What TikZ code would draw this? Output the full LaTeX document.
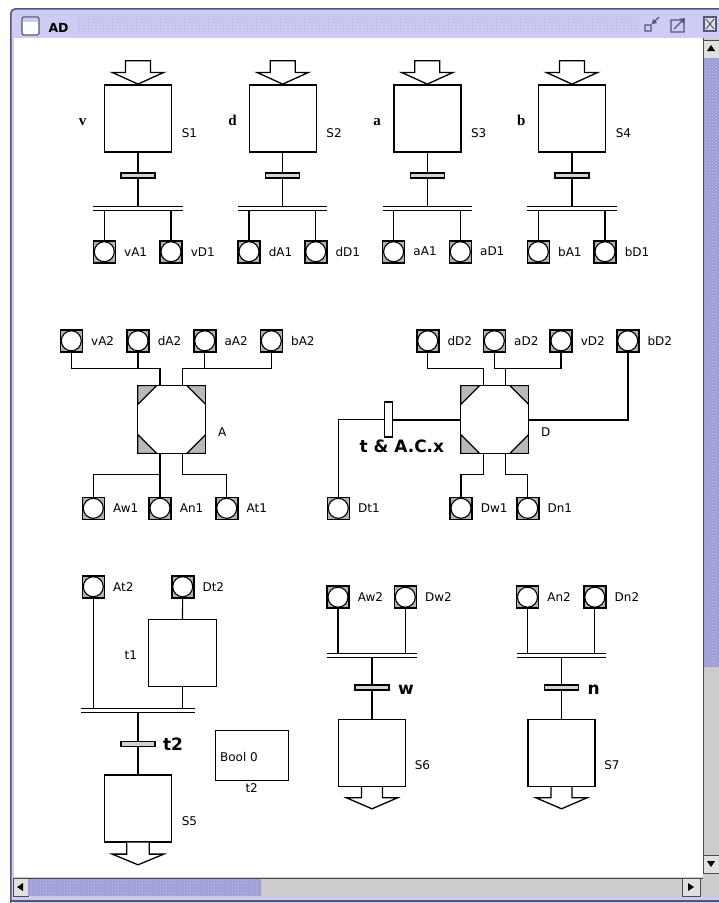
\documentclass[tikz,border=0pt]{standalone}
\usepackage{fontspec}
\setmainfont{DejaVu Sans}
\newfontfamily\serbold{Liberation Serif}
\usepackage{tikz}
\usetikzlibrary{positioning,patterns}
\usepackage{xcolor}
\definecolor{lav}{HTML}{CCCCF5}
\definecolor{lavdot}{HTML}{AFAFDD}
\definecolor{winframe}{HTML}{55557A}
\definecolor{thumbfill}{HTML}{9E9ED6}
\definecolor{thumbdot}{HTML}{C2C2EA}
\definecolor{trackgray}{HTML}{CCCCCC}
\definecolor{btngray}{HTML}{E0E0E0}

\begin{document}
\begin{tikzpicture}[
  x=1pt, y=-1pt,
  line width=1.1pt,
  stepbox/.style={rectangle, draw, line width=1.4pt, fill=white,
    minimum width=67pt, minimum height=67pt, inner sep=0pt},
  plc/.style={rectangle, draw, line width=1.6pt, fill=gray!60,
    minimum size=22pt, inner sep=0pt,
    path picture={\draw[fill=white, line width=1.1pt]
      (path picture bounding box.center) circle (10pt);}},
  macro/.style={rectangle, draw, line width=1.5pt, fill=white,
    minimum size=68pt, inner sep=0pt,
    path picture={
      \filldraw[fill=gray!55, line width=1.3pt]
        (path picture bounding box.north west) -- ++(19pt,0pt) -- ++(-19pt,-19pt) -- cycle
        (path picture bounding box.north east) -- ++(-19pt,0pt) -- ++(19pt,-19pt) -- cycle
        (path picture bounding box.south west) -- ++(19pt,0pt) -- ++(-19pt,19pt) -- cycle
        (path picture bounding box.south east) -- ++(-19pt,0pt) -- ++(19pt,19pt) -- cycle;
      \fill
        ([xshift=1pt]path picture bounding box.west) -- ++(3pt,2.5pt) -- ++(3pt,-2.5pt) -- ++(-3pt,-2.5pt) -- cycle
        ([xshift=-1pt]path picture bounding box.east) -- ++(-3pt,2.5pt) -- ++(-3pt,-2.5pt) -- ++(3pt,-2.5pt) -- cycle;
    }},
  trans/.style={rectangle, draw, line width=1.1pt, fill=gray!35,
    minimum width=34pt, minimum height=5pt, inner sep=0pt},
  vtrans/.style={rectangle, draw, line width=1.8pt, fill=white,
    minimum width=8pt, minimum height=35pt, inner sep=0pt},
  sync/.style={rectangle, minimum height=4pt, inner sep=0pt},
  dbl/.style={line width=1.1pt, double=white, double distance=2.8pt},
  blk/.style={draw, fill=white, line width=1.3pt},
  thk/.style={line width=2pt},
  boolbox/.style={rectangle, draw, line width=1.3pt, fill=white,
    minimum width=73pt, minimum height=50pt, inner sep=0pt},
  lbl/.style={font=\fontsize{12}{14}\selectfont, inner sep=1pt},
  var/.style={font=\serbold\bfseries\fontsize{15}{17}\selectfont, inner sep=0pt},
  guard/.style={font=\bfseries\fontsize{17}{20}\selectfont, inner sep=0pt},
  btn/.style={fill=btngray, draw=gray!60!black, line width=0.8pt}
]
\useasboundingbox (0,0) rectangle (719,903);

% window frame and title bar
\fill[white] (0,0) rectangle (719,903);
\fill[lav, rounded corners=5pt] (10,8) rectangle (730,903);
\draw[winframe, line width=1.5pt, rounded corners=5pt] (10.75,903) -- (10.75,8.75) -- (719,8.75);
\fill[pattern=crosshatch dots, pattern color=lavdot] (77,16) rectangle (640,33);
\filldraw[fill=white, draw=winframe, line width=1.2pt, rounded corners=1.5pt] (22,17) rectangle (39,35);
\fill[lav] (23,18) rectangle (38,22);
\node[font=\bfseries\fontsize{12.5}{14}\selectfont, inner sep=0pt, anchor=base west] (title) at (48,32) {AD};
\draw[winframe, line width=1.1pt] (645,25) rectangle (651,31) (652,24) -- (659,17);
\fill[winframe] (652,24) -- (657,23) -- (653,19) -- cycle;
\draw[winframe, line width=1.1pt] (671,20) rectangle (684,32) (674,29) -- (683,20);
\fill[winframe] (685,18) -- (684,24) -- (679,19) -- cycle;
\filldraw[fill=btngray, draw=winframe, line width=1.3pt] (704,17) rectangle (716,31);
\draw[winframe, line width=1pt] (706,19) -- (714,29) (714,19) -- (706,29);
\fill[white] (14,38) rectangle (703,877);

% scroll bars
\fill[trackgray] (703,38) rectangle (719,897);
\fill[trackgray] (13,877) rectangle (703,897);
\filldraw[btn] (703.5,40) rectangle (719,58);
\fill (711,45) -- (715,51) -- (707,51) -- cycle;
\fill[thumbfill] (703.5,58) rectangle (719,667);
\fill[pattern=crosshatch dots, pattern color=thumbdot] (705,60) rectangle (718,665);
\filldraw[btn] (703.5,855) rectangle (719,873);
\fill (711,867) -- (715,861) -- (707,861) -- cycle;
\draw[gray!60!black, line width=0.8pt] (703.5,38) -- (703.5,873);
\filldraw[btn] (13,878.5) rectangle (28,896);
\fill (17,887) -- (23,883) -- (23,891) -- cycle;
\fill[thumbfill] (28,878.5) rectangle (261,896);
\fill[pattern=crosshatch dots, pattern color=thumbdot] (30,880) rectangle (259,895);
\filldraw[btn] (682,878.5) rectangle (700,896);
\fill (694,887) -- (688,883) -- (688,891) -- cycle;
\draw[gray!60!black, line width=0.8pt] (13,878.5) -- (703,878.5);
\draw[winframe, line width=1.2pt] (10,901) -- (719,901);

% top row: S1..S4
\node[stepbox] (s1) at (138,118.3) {};
\node[stepbox] (s2) at (282.7,118.3) {};
\node[stepbox] (s3) at (427.3,118.3) {};
\node[stepbox] (s4) at (572,118.3) {};
\node[trans] (tr1) at (138,175.5) {};
\node[trans] (tr2) at (282.7,175.5) {};
\node[trans] (tr3) at (427.3,175.5) {};
\node[trans] (tr4) at (572,175.5) {};
\node[sync, minimum width=88pt] (sy1) at (138,208.7) {};
\node[sync, minimum width=88pt] (sy2) at (282.7,208.7) {};
\node[sync, minimum width=88pt] (sy3) at (427.3,208.7) {};
\node[sync, minimum width=88pt] (sy4) at (572,208.7) {};
\node[plc] (pvA1) at (104.3,251.7) {};
\node[plc] (pvD1) at (171,251.7) {};
\node[plc] (pdA1) at (249,251.7) {};
\node[plc] (pdD1) at (315.7,251.7) {};
\node[plc] (paA1) at (393.6,251.7) {};
\node[plc] (paD1) at (460.3,251.7) {};
\node[plc] (pbA1) at (538.3,251.7) {};
\node[plc] (pbD1) at (605,251.7) {};

\node[var, anchor=base] (lv) at (82.5,125.5) {v};
\node[var, anchor=base] (ld) at (232.5,125.5) {d};
\node[var, anchor=base] (la) at (377.2,125.5) {a};
\node[var, anchor=base] (lb) at (521.3,125.5) {b};
\node[lbl, anchor=base west] (ls1) at ([xshift=8pt,yshift=-18.7pt]s1.east) {S1};
\node[lbl, anchor=base west] (ls2) at ([xshift=8pt,yshift=-18.7pt]s2.east) {S2};
\node[lbl, anchor=base west] (ls3) at ([xshift=8pt,yshift=-18.7pt]s3.east) {S3};
\node[lbl, anchor=base west] (ls4) at ([xshift=8pt,yshift=-18.7pt]s4.east) {S4};
\node[lbl, right=6.5pt of pvA1] (lvA1) {vA1};
\node[lbl, right=6.5pt of pvD1] (lvD1) {vD1};
\node[lbl, right=6.5pt of pdA1] (ldA1) {dA1};
\node[lbl, right=6.5pt of pdD1] (ldD1) {dD1};
\node[lbl, right=6.5pt of paA1] (laA1) {aA1};
\node[lbl, right=6.5pt of paD1] (laD1) {aD1};
\node[lbl, right=6.5pt of pbA1] (lbA1) {bA1};
\node[lbl, right=6.5pt of pbD1] (lbD1) {bD1};

\filldraw[blk] (s1.north) -- ++(-25.8pt,11.7pt) -- ++(13.3pt,0pt) -- ++(0pt,11.6pt) -- ++(25pt,0pt) -- ++(0pt,-11.6pt) -- ++(13.3pt,0pt) -- cycle;
\filldraw[blk] (s2.north) -- ++(-25.8pt,11.7pt) -- ++(13.3pt,0pt) -- ++(0pt,11.6pt) -- ++(25pt,0pt) -- ++(0pt,-11.6pt) -- ++(13.3pt,0pt) -- cycle;
\filldraw[blk] (s3.north) -- ++(-25.8pt,11.7pt) -- ++(13.3pt,0pt) -- ++(0pt,11.6pt) -- ++(25pt,0pt) -- ++(0pt,-11.6pt) -- ++(13.3pt,0pt) -- cycle;
\filldraw[blk] (s4.north) -- ++(-25.8pt,11.7pt) -- ++(13.3pt,0pt) -- ++(0pt,11.6pt) -- ++(25pt,0pt) -- ++(0pt,-11.6pt) -- ++(13.3pt,0pt) -- cycle;

\draw (s1) -- (tr1);
\draw (tr1) -- (sy1);
\draw (sy1.south -| pvA1) -- (pvA1);
\draw (sy1.south -| pvD1) -- (pvD1);
\draw[dbl] (sy1.west) -- (sy1.east);
\draw (s2) -- (tr2);
\draw (tr2) -- (sy2);
\draw (sy2.south -| pdA1) -- (pdA1);
\draw (sy2.south -| pdD1) -- (pdD1);
\draw[dbl] (sy2.west) -- (sy2.east);
\draw (s3) -- (tr3);
\draw (tr3) -- (sy3);
\draw (sy3.south -| paA1) -- (paA1);
\draw (sy3.south -| paD1) -- (paD1);
\draw[dbl] (sy3.west) -- (sy3.east);
\draw (s4) -- (tr4);
\draw (tr4) -- (sy4);
\draw (sy4.south -| pbA1) -- (pbA1);
\draw (sy4.south -| pbD1) -- (pbD1);
\draw[dbl] (sy4.west) -- (sy4.east);

% macro step A
\node[macro] (mA) at (171.7,419.5) {};
\node[plc] (pvA2) at (71.3,340.8) {};
\node[plc] (pdA2) at (138,340.8) {};
\node[plc] (paA2) at (204.7,340.8) {};
\node[plc] (pbA2) at (271.3,340.8) {};
\node[plc] (pAw1) at (93.3,508.3) {};
\node[plc] (pAn1) at (160,508.3) {};
\node[plc] (pAt1) at (226.7,508.3) {};
\node[lbl, right=6.5pt of pvA2] (lvA2) {vA2};
\node[lbl, right=6.5pt of pdA2] (ldA2) {dA2};
\node[lbl, right=6.5pt of paA2] (laA2) {aA2};
\node[lbl, right=6.5pt of pbA2] (lbA2) {bA2};
\node[lbl, right=6.5pt of pAw1] (lAw1) {Aw1};
\node[lbl, right=6.5pt of pAn1] (lAn1) {An1};
\node[lbl, right=6.5pt of pAt1] (lAt1) {At1};
\node[lbl, anchor=base west] (lA) at ([xshift=10pt,yshift=-17pt]mA.east) {A};
\coordinate (jA1) at (160,368.3);
\coordinate (jA2) at (182.7,368.3);
\coordinate (jA3) at (160,474.3);
\coordinate (jA4) at (182.7,474.3);

\draw (pvA2) |- (jA1) -- (jA1 |- mA.north);
\draw (pdA2) -- (pdA2 |- jA1);
\draw (pbA2) |- (jA2) -- (jA2 |- mA.north);
\draw (paA2) -- (paA2 |- jA2);
\draw (jA3 |- mA.south) -- (pAn1);
\draw (jA3) -| (pAw1);
\draw (jA4 |- mA.south) -- (jA4) -| (pAt1);

% macro step D
\node[macro] (mD) at (494.7,419.5) {};
\node[plc] (pdD2) at (427.7,340.8) {};
\node[plc] (paD2) at (494.3,340.8) {};
\node[plc] (pvD2) at (561,340.8) {};
\node[plc] (pbD2) at (627.7,340.8) {};
\node[plc] (pDt1) at (338.3,508.3) {};
\node[plc] (pDw1) at (461,508.3) {};
\node[plc] (pDn1) at (527.7,508.3) {};
\node[lbl, right=6.5pt of pdD2] (ldD2) {dD2};
\node[lbl, right=6.5pt of paD2] (laD2) {aD2};
\node[lbl, right=6.5pt of pvD2] (lvD2) {vD2};
\node[lbl, right=6.5pt of pbD2] (lbD2) {bD2};
\node[lbl, right=6.5pt of pDt1] (lDt1) {Dt1};
\node[lbl, right=6.5pt of pDw1] (lDw1) {Dw1};
\node[lbl, right=6.5pt of pDn1] (lDn1) {Dn1};
\node[lbl, anchor=base west] (lD) at ([xshift=10pt,yshift=-17pt]mD.east) {D};
\node[vtrans] (trx) at (388.5,419.5) {};
\node[guard, anchor=base west] (gx) at (359,452.5) {t \& A.C.x};
\coordinate (jD1) at (483.3,368.3);
\coordinate (jD2) at (505.7,368.3);
\coordinate (jD3) at (483.3,474.3);
\coordinate (jD4) at (505.7,474.3);

\draw (pdD2) |- (jD1) -- (jD1 |- mD.north);
\draw (paD2) |- (pvD2 |- jD2) -- (pvD2);
\draw (jD2) -- (jD2 |- mD.north);
\draw[thk] (pbD2) |- (mD.east);
\draw (pDt1) |- (trx.west);
\draw[thk] (trx) -- (mD.west);
\draw (jD3 |- mD.south) -- (jD3) -| (pDw1);
\draw (jD4 |- mD.south) -- (jD4) -| (pDn1);

% bottom left: t1, t2, S5
\node[plc] (pAt2) at (93.3,586.7) {};
\node[plc] (pDt2) at (182.7,586.7) {};
\node[lbl, right=6.5pt of pAt2] (lAt2) {At2};
\node[lbl, right=6.5pt of pDt2] (lDt2) {Dt2};
\node[stepbox, minimum width=68pt] (bt1) at (182.2,653) {};
\node[lbl, anchor=base east] (lt1) at ([xshift=-9pt,yshift=-6pt]bt1.west) {t1};
\node[sync, minimum width=113pt] (syt2) at (138,710.3) {};
\node[trans] (trt2) at (138,744.2) {};
\node[guard, anchor=base west] (gt2) at ([xshift=7pt,yshift=-6.5pt]trt2.east) {t2};
\node[stepbox] (s5) at (138,808.3) {};
\node[lbl, anchor=base west] (ls5) at ([xshift=8pt,yshift=-16.7pt]s5.east) {S5};
\node[boolbox] (bool) at (251.7,755.7) {};
\node[lbl, anchor=west] (lbool) at ([xshift=4pt,yshift=-1pt]bool.west) {Bool 0};
\node[lbl, below=1pt of bool] (lbt2) {t2};

\draw (pDt2) -- (bt1);
\draw (pAt2) -- (pAt2 |- syt2.north);
\draw (bt1) -- (bt1 |- syt2.north);
\draw[dbl] (syt2.west) -- (syt2.east);
\draw (syt2) -- (trt2);
\draw (trt2) -- (s5);
\filldraw[blk] ([xshift=-11.3pt]s5.south) -- ++(0pt,-11.6pt) -- ++(-14.5pt,0pt) -- ++(25.8pt,-10.7pt) -- ++(25.8pt,10.7pt) -- ++(-14.5pt,0pt) -- ++(0pt,11.6pt);

% bottom middle: w, S6
\node[plc] (pAw2) at (338,597.2) {};
\node[plc] (pDw2) at (405.3,597.2) {};
\node[lbl, right=6.5pt of pAw2] (lAw2) {Aw2};
\node[lbl, right=6.5pt of pDw2] (lDw2) {Dw2};
\node[sync, minimum width=88pt] (syw) at (372,655.3) {};
\node[trans] (trw) at (372,687.5) {};
\node[guard, anchor=base west] (gw) at ([xshift=8pt,yshift=-7pt]trw.east) {w};
\node[stepbox] (s6) at (372,753) {};
\node[lbl, anchor=base west] (ls6) at ([xshift=7pt,yshift=-16.3pt]s6.east) {S6};

\draw (pAw2) -- (pAw2 |- syw.north);
\draw (pDw2) -- (pDw2 |- syw.north);
\draw[dbl] (syw.west) -- (syw.east);
\draw (syw) -- (trw);
\draw (trw) -- (s6);
\filldraw[blk] ([xshift=-10.5pt]s6.south) -- ++(0pt,-10.6pt) -- ++(-15pt,0pt) -- ++(25.5pt,-11pt) -- ++(25.5pt,11pt) -- ++(-15pt,0pt) -- ++(0pt,10.6pt);

% bottom right: n, S7
\node[plc] (pAn2) at (527.5,597.2) {};
\node[plc] (pDn2) at (594.8,597.2) {};
\node[lbl, right=6.5pt of pAn2] (lAn2) {An2};
\node[lbl, right=6.5pt of pDn2] (lDn2) {Dn2};
\node[sync, minimum width=88pt] (syn) at (561.5,655.3) {};
\node[trans] (trn) at (561.5,687.5) {};
\node[guard, anchor=base west] (gn) at ([xshift=8pt,yshift=-7pt]trn.east) {n};
\node[stepbox] (s7) at (561.5,753) {};
\node[lbl, anchor=base west] (ls7) at ([xshift=7pt,yshift=-16.3pt]s7.east) {S7};

\draw (pAn2) -- (pAn2 |- syn.north);
\draw (pDn2) -- (pDn2 |- syn.north);
\draw[dbl] (syn.west) -- (syn.east);
\draw (syn) -- (trn);
\draw (trn) -- (s7);
\filldraw[blk] ([xshift=-10.5pt]s7.south) -- ++(0pt,-10.6pt) -- ++(-15pt,0pt) -- ++(25.5pt,-11pt) -- ++(25.5pt,11pt) -- ++(-15pt,0pt) -- ++(0pt,10.6pt);

\end{tikzpicture}
\end{document}
